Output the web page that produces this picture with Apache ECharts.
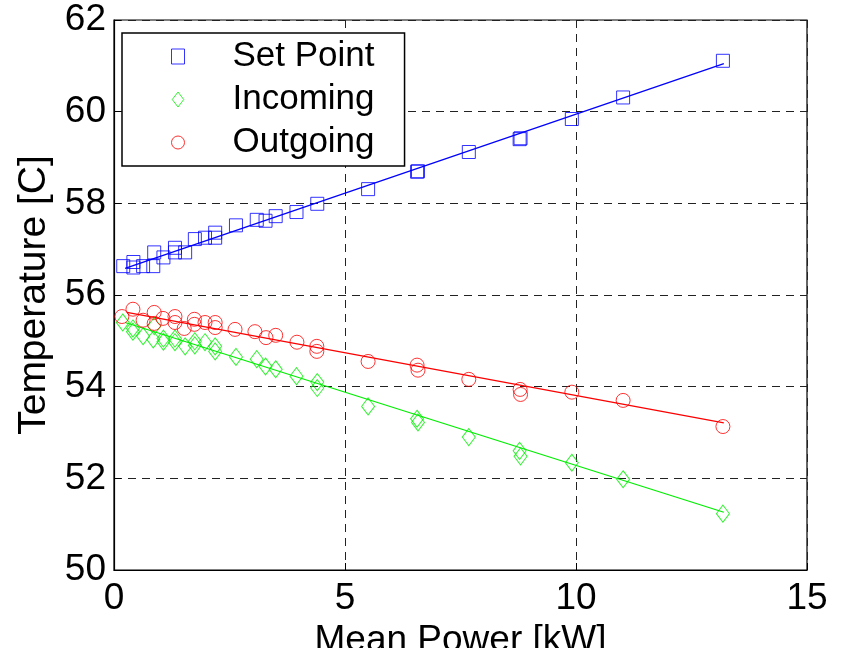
<!DOCTYPE html>
<html>
<head>
<meta charset="utf-8">
<script src="https://cdn.jsdelivr.net/npm/echarts@6.0.0/dist/echarts.min.js"></script>
<style>
  html, body { margin: 0; padding: 0; background: #fff; }
  #chart { width: 844px; height: 648px; }
</style>
</head>
<body>
<div id="chart"></div>
<script>
// values
var setX = [0.2, 0.42, 0.42, 0.63, 0.85, 0.87, 1.07, 1.32, 1.32, 1.54, 1.75, 1.97, 2.19, 2.19, 2.64, 3.09, 3.28, 3.5, 3.95, 4.4, 5.5, 6.56, 6.58, 7.68, 8.78, 8.8, 9.91, 11.02, 13.18];
var setY = [56.63, 56.72, 56.6, 56.63, 56.63, 56.93, 56.82, 57.03, 56.93, 56.93, 57.22, 57.25, 57.36, 57.25, 57.52, 57.64, 57.62, 57.72, 57.81, 57.99, 58.31, 58.69, 58.7, 59.12, 59.4, 59.42, 59.84, 60.31, 61.11];

var inX = [0.19, 0.41, 0.41, 0.63, 0.85, 0.87, 1.07, 1.07, 1.32, 1.32, 1.54, 1.75, 1.75, 1.97, 2.19, 2.19, 2.64, 3.09, 3.28, 3.5, 3.95, 4.4, 4.4, 5.5, 6.56, 6.58, 7.68, 8.78, 8.8, 9.91, 11.02, 13.18];
var inY = [55.4, 55.27, 55.2, 55.1, 55.03, 55.32, 55.05, 54.98, 55.05, 54.97, 54.88, 54.99, 54.9, 54.97, 54.88, 54.77, 54.65, 54.6, 54.44, 54.38, 54.23, 54.1, 53.97, 53.57, 53.3, 53.22, 52.9, 52.6, 52.48, 52.34, 51.98, 51.23];

var outX = [0.17, 0.41, 0.63, 0.87, 0.87, 1.06, 1.32, 1.32, 1.52, 1.74, 1.74, 1.97, 2.19, 2.19, 2.62, 3.05, 3.29, 3.5, 3.96, 4.39, 4.39, 5.5, 6.56, 6.58, 7.68, 8.79, 8.8, 9.91, 11.02, 13.18];
var outY = [55.53, 55.69, 55.45, 55.62, 55.38, 55.49, 55.53, 55.4, 55.27, 55.47, 55.36, 55.4, 55.4, 55.29, 55.25, 55.2, 55.07, 55.12, 54.97, 54.88, 54.77, 54.55, 54.47, 54.36, 54.16, 53.94, 53.83, 53.88, 53.7, 53.13];

// fitted lines (end points)
var setFitX = [0.24, 13.2];
var setFitY = [56.58, 61.05];
var inFitX = [0.24, 13.2];
var inFitY = [55.4, 51.26];
var outFitX = [0.28, 13.2];
var outFitY = [55.62, 53.21];

var xTicks = [0, 5, 10, 15];
var yTicks = [50, 52, 54, 56, 58, 60, 62];

var font = '"Liberation Sans", Arial, Helvetica, sans-serif';

var pairs = function(xs, ys){
    var out = [];
    for (var i = 0; i < xs.length; i++) {
        out.push([xs[i], ys[i]]);
    }
    return out;
};

var scatter = function(name, xs, ys, symbol, size, color){
    return {
        name: name,
        type: 'scatter',
        data: pairs(xs, ys),
        symbol: symbol,
        symbolSize: size,
        itemStyle: { color: 'transparent', borderColor: color, borderWidth: 1 },
        emphasis: { disabled: true },
        z: 3
    };
};

var fitLine = function(xs, ys, color){
    return {
        type: 'line',
        data: pairs(xs, ys),
        showSymbol: false,
        lineStyle: { color: color, width: 1.3 },
        emphasis: { disabled: true },
        z: 2
    };
};

var chart = echarts.init(document.getElementById('chart'));
chart.setOption({
    animation: false,
    backgroundColor: '#fff',
    textStyle: { fontFamily: font },
    grid: {
        left: 114, right: 37, top: 20, bottom: 78,
        outerBoundsMode: 'none',
        containLabel: false,
        show: true, borderColor: '#000', borderWidth: 1.2
    },
    legend: {
        left: 122, top: 33,
        orient: 'vertical',
        backgroundColor: '#fff',
        borderColor: '#000',
        borderWidth: 1.5,
        borderRadius: 0,
        padding: [5, 30, 5, 49],
        itemGap: 6,
        itemWidth: 13,
        itemHeight: 15,
        textStyle: { fontSize: 35, color: '#000', fontFamily: font, lineHeight: 37, padding: [0, 0, 0, 43] },
        data: [
            { name: 'Set Point', icon: 'rect', itemStyle: { color: 'transparent', borderColor: '#0000ff', borderWidth: 1 } },
            { name: 'Incoming', icon: 'path://M6.5,0 L13,8.5 L6.5,17 L0,8.5 Z', itemStyle: { color: 'transparent', borderColor: '#00ee00', borderWidth: 1 } },
            { name: 'Outgoing', icon: 'circle', itemStyle: { color: 'transparent', borderColor: '#ff0000', borderWidth: 1 } }
        ],
        selectedMode: false
    },
    xAxis: {
        type: 'value',
        min: xTicks[0], max: xTicks[xTicks.length - 1], interval: 5,
        name: 'Mean Power [kW]',
        nameLocation: 'middle',
        nameGap: 44,
        nameTextStyle: { fontSize: 37, color: '#000', fontFamily: font },
        axisLine: { show: true, onZero: false, lineStyle: { color: '#000', width: 1.2 } },
        axisTick: { show: true, inside: true, length: 7, lineStyle: { color: '#000' } },
        axisLabel: { fontSize: 37, color: '#000', margin: 10, fontFamily: font },
        splitLine: { show: true, lineStyle: { color: '#222', type: [8, 6], width: 1 } }
    },
    yAxis: {
        type: 'value',
        min: yTicks[0], max: yTicks[yTicks.length - 1], interval: 2,
        name: 'Temperature [C]',
        nameLocation: 'middle',
        nameGap: 60,
        nameTextStyle: { fontSize: 39, color: '#000', fontFamily: font },
        axisLine: { show: true, lineStyle: { color: '#000', width: 1.2 } },
        axisTick: { show: true, inside: true, length: 7, lineStyle: { color: '#000' } },
        axisLabel: { fontSize: 37, color: '#000', margin: 8, fontFamily: font },
        splitLine: { show: true, lineStyle: { color: '#222', type: [8, 6], width: 1 } }
    },
    series: [
        scatter('Set Point', setX, setY, 'rect', 13, '#0000ff'),
        scatter('Incoming', inX, inY, 'diamond', [13, 17], '#00ee00'),
        scatter('Outgoing', outX, outY, 'circle', 14, '#ff0000'),
        fitLine(setFitX, setFitY, '#0000ff'),
        fitLine(inFitX, inFitY, '#00ee00'),
        fitLine(outFitX, outFitY, '#ff0000')
    ]
});
</script>
</body>
</html>
